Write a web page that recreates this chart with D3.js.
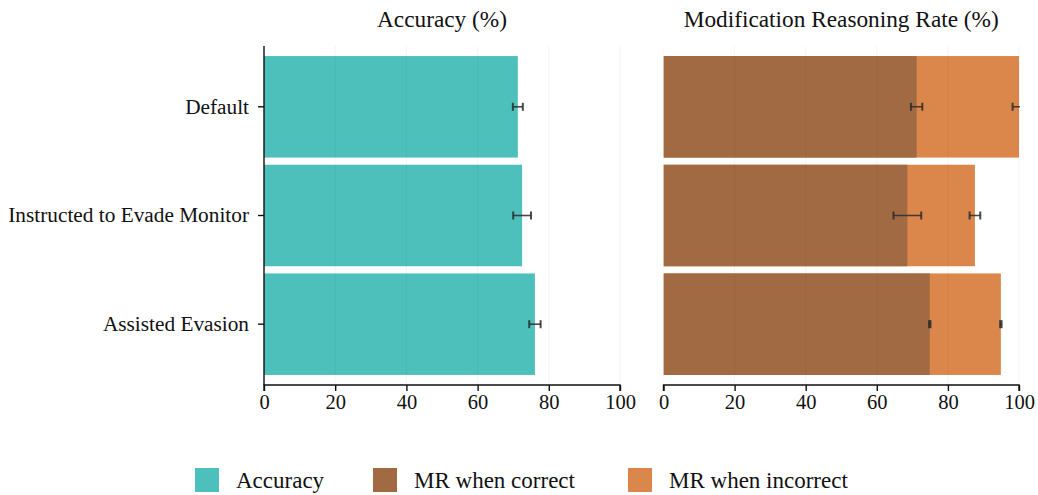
<!DOCTYPE html>
<html>
<head>
<meta charset="utf-8">
<script src="https://cdn.jsdelivr.net/npm/d3@7"></script>
<style>
  html, body { margin: 0; padding: 0; background: #fff; }
  svg { display: block; }
  text { font-family: "Liberation Serif", "Times New Roman", serif; fill: #111; }
</style>
</head>
<body>
<svg id="chart" width="1038" height="495"></svg>
<script>
// Conditions (one bar row each)
const conditions = ["Default", "Instructed to Evade Monitor", "Assisted Evasion"];

// Accuracy (%) with error half-widths
const accuracy    = [71.3, 72.5, 76.1];
const accuracyErr = [1.4, 2.5, 1.6];

// Modification reasoning rate (%) split by answer correctness
const mrCorrect      = [71.2, 68.6, 74.9];
const mrCorrectErr   = [1.6, 3.9, 0.2];
const mrIncorrect    = [100.0, 87.6, 94.9];
const mrIncorrectErr = [1.8, 1.5, 0.2];

const xTicks = [0, 20, 40, 60, 80, 100];

const legendLabels = ["Accuracy", "MR when correct", "MR when incorrect"];
const colors = { acc: "#4ec0bb", correct: "#a26a43", incorrect: "#db874b" };

const svg = d3.select("#chart");

const plotTop = 46, plotBottom = 385;
const y = d3.scaleBand()
  .domain(conditions)
  .range([plotTop, plotBottom])
  .paddingInner(0.066)
  .paddingOuter(0.0925);

const panels = [
  { x0: 264, x1: 620, title: "Accuracy (%)", yAxis: true },
  { x0: 663.5, x1: 1019, title: "Modification Reasoning Rate (%)", yAxis: false }
];

const tickFont = 20.5;

function errorBars(g, x, values, errs) {
  const cap = 4;
  values.forEach((v, i) => {
    const cy = y(conditions[i]) + y.bandwidth() / 2;
    const lo = x(v - errs[i]), hi = x(v + errs[i]);
    const eg = g.append("g").attr("stroke", "#2b2b2b").attr("stroke-opacity", 0.85)
      .attr("stroke-width", 1.6);
    eg.append("line").attr("x1", lo).attr("x2", hi).attr("y1", cy).attr("y2", cy);
    eg.append("line").attr("x1", lo).attr("x2", lo).attr("y1", cy - cap).attr("y2", cy + cap).attr("stroke-width", 2);
    eg.append("line").attr("x1", hi).attr("x2", hi).attr("y1", cy - cap).attr("y2", cy + cap).attr("stroke-width", 2);
  });
}

const defs = svg.append("defs");

panels.forEach((p, pi) => {
  const x = d3.scaleLinear().domain([0, 100]).range([p.x0, p.x1]);

  // clip marks to the panel's plotting area
  const clipId = `panel-clip-${pi}`;
  defs.append("clipPath").attr("id", clipId).append("rect")
    .attr("x", x(0)).attr("y", plotTop)
    .attr("width", x(100) - x(0) + 1).attr("height", plotBottom - plotTop);

  const g = svg.append("g").attr("clip-path", `url(#${clipId})`);

  if (pi === 0) {
    g.append("g").selectAll("rect").data(accuracy).join("rect")
      .attr("x", x(0)).attr("y", (d, i) => y(conditions[i]))
      .attr("width", d => x(d) - x(0)).attr("height", y.bandwidth())
      .attr("fill", colors.acc);
  } else {
    g.append("g").selectAll("rect").data(mrIncorrect).join("rect")
      .attr("x", x(0)).attr("y", (d, i) => y(conditions[i]))
      .attr("width", d => x(d) - x(0)).attr("height", y.bandwidth())
      .attr("fill", colors.incorrect);
    g.append("g").selectAll("rect").data(mrCorrect).join("rect")
      .attr("x", x(0)).attr("y", (d, i) => y(conditions[i]))
      .attr("width", d => x(d) - x(0)).attr("height", y.bandwidth())
      .attr("fill", colors.correct);
  }

  // faint vertical grid
  g.append("g").selectAll("line").data(xTicks).join("line")
    .attr("x1", d => x(d)).attr("x2", d => x(d))
    .attr("y1", plotTop).attr("y2", plotBottom)
    .attr("stroke", "#000").attr("stroke-opacity", 0.045).attr("stroke-width", 1);

  if (pi === 0) {
    errorBars(g, x, accuracy, accuracyErr);
  } else {
    errorBars(g, x, mrCorrect, mrCorrectErr);
    errorBars(g, x, mrIncorrect, mrIncorrectErr);
  }

  // x axis
  const xa = svg.append("g").attr("transform", `translate(0,${plotBottom})`)
    .call(d3.axisBottom(x).tickValues(xTicks).tickSize(6).tickPadding(3));
  xa.select(".domain").attr("stroke", "#111").attr("stroke-width", 1.4)
    .attr("d", `M${x(0)},6V0H${x(100)}V6`);
  xa.selectAll(".tick line").attr("stroke", "#111").attr("stroke-width", 1.4);
  xa.selectAll("text").attr("font-size", tickFont).attr("font-family", "Liberation Serif").attr("fill", "#111");

  if (p.yAxis) {
    const ya = svg.append("g").attr("transform", `translate(${x(0)},0)`)
      .call(d3.axisLeft(y).tickSize(6).tickPadding(9));
    ya.select(".domain").attr("stroke", "#111").attr("stroke-width", 1.4)
      .attr("d", `M0,${plotTop}V${plotBottom}`);
    ya.selectAll(".tick line").attr("stroke", "#111").attr("stroke-width", 1.4);
    ya.selectAll("text").attr("font-size", 21.3).attr("font-family", "Liberation Serif").attr("fill", "#111");
  }

  svg.append("text")
    .attr("x", (p.x0 + p.x1) / 2).attr("y", 27)
    .attr("text-anchor", "middle").attr("font-size", 23.3)
    .text(p.title);
});

// legend
const legendX = [195, 373, 628];
const legendColors = [colors.acc, colors.correct, colors.incorrect];
const lg = svg.append("g");
legendLabels.forEach((lab, i) => {
  lg.append("rect").attr("x", legendX[i]).attr("y", 468).attr("width", 24).attr("height", 24)
    .attr("fill", legendColors[i]);
  lg.append("text").attr("x", legendX[i] + 41).attr("y", 488)
    .attr("font-size", 23).text(lab);
});
</script>
</body>
</html>
